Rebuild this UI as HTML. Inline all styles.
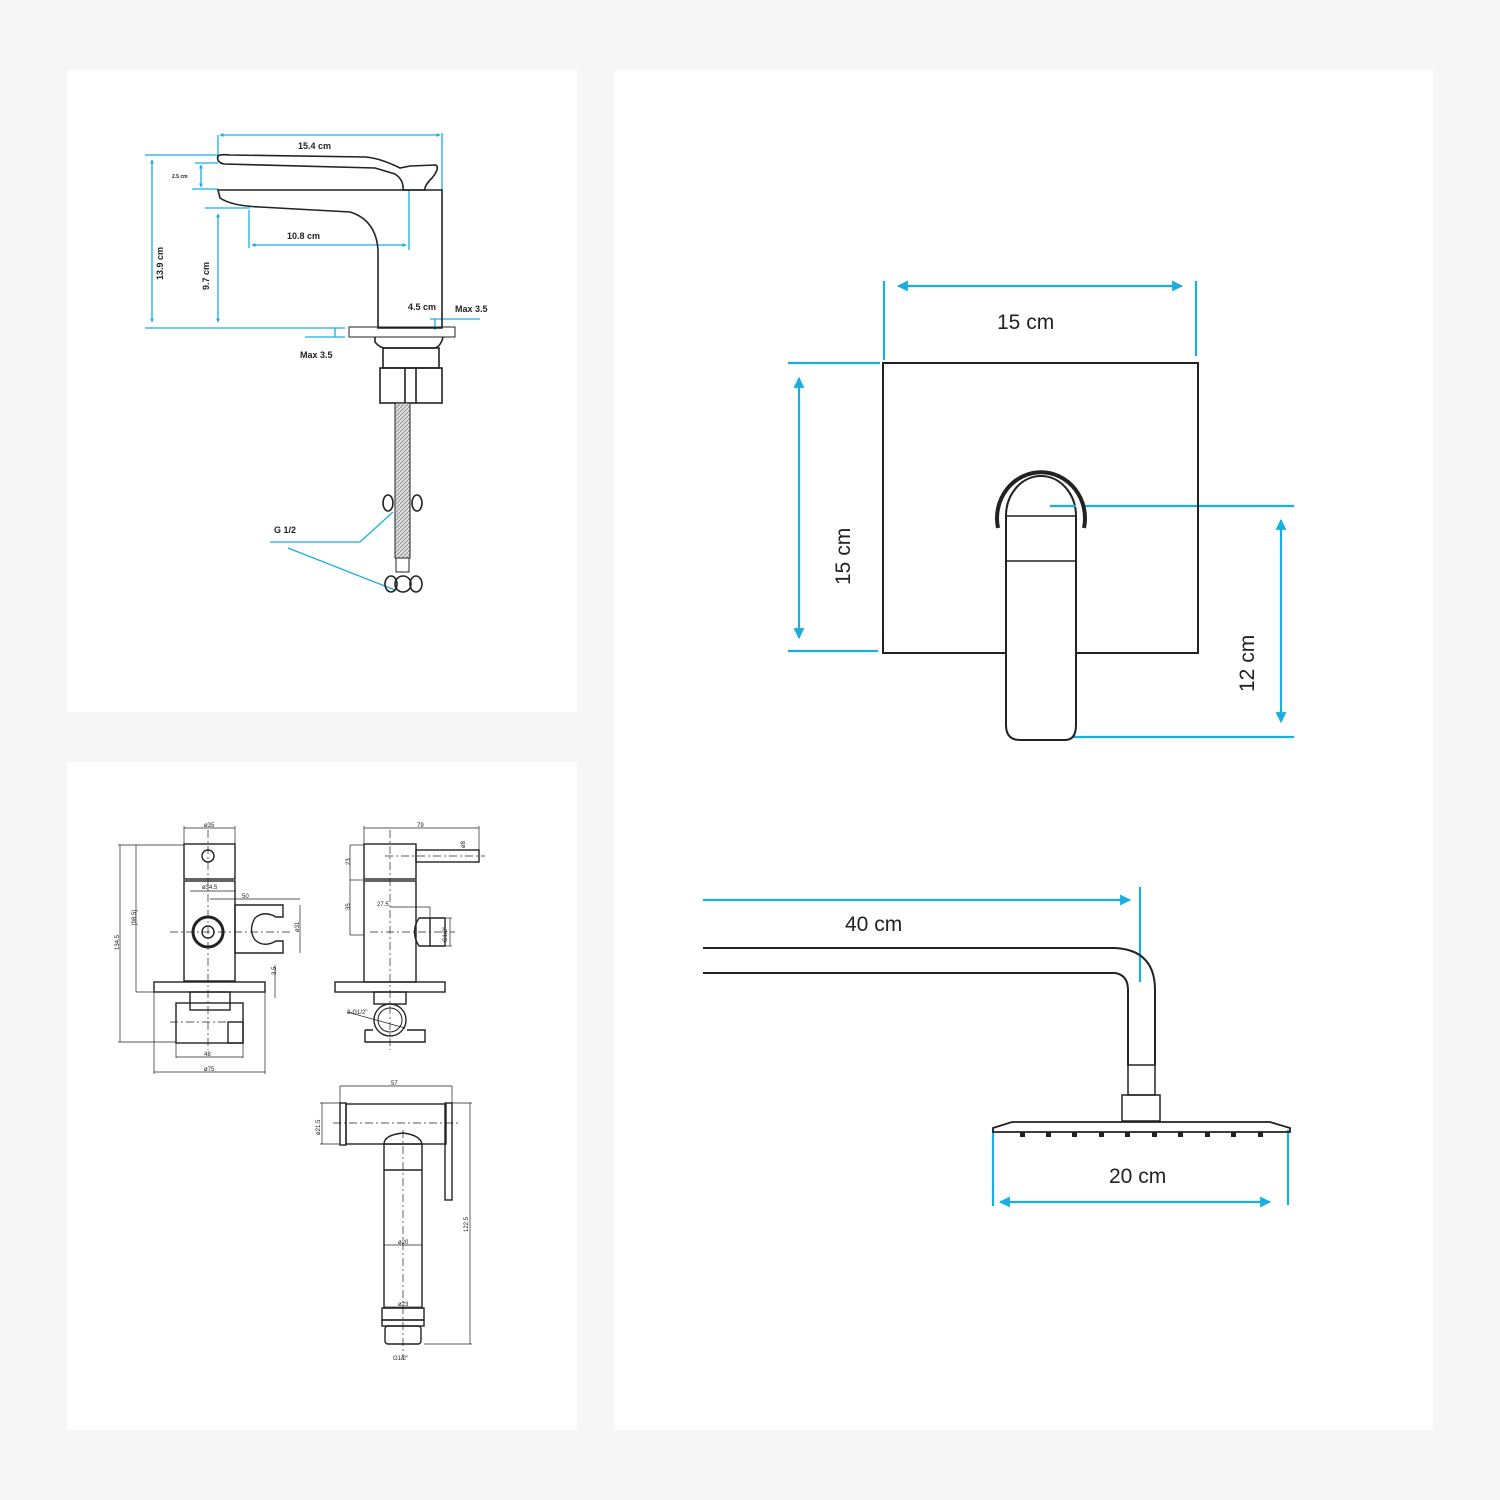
<!DOCTYPE html>
<html><head><meta charset="utf-8"><style>
html,body{margin:0;padding:0;background:#f6f6f6;}
svg{display:block;}
text{font-family:"Liberation Sans",Arial,sans-serif;}
</style></head><body>
<svg width="1500" height="1500" viewBox="0 0 1500 1500" xmlns="http://www.w3.org/2000/svg">
<defs>
<marker id="a" viewBox="0 0 10 10" refX="9" refY="5" markerWidth="5" markerHeight="5" orient="auto-start-reverse"><path d="M0,0 L10,5 L0,10 z" fill="#19aee0"/></marker>
<marker id="s" viewBox="0 0 10 10" refX="9" refY="5" markerWidth="3" markerHeight="3" orient="auto-start-reverse"><path d="M0,0 L10,5 L0,10 z" fill="#19aee0"/></marker>
<pattern id="br" width="4" height="4" patternUnits="userSpaceOnUse"><rect width="4" height="4" fill="#ddd"/><path d="M0,4 L4,0" stroke="#888" stroke-width="0.8"/></pattern>
</defs>
<rect width="1500" height="1500" fill="#f6f6f6"/>
<rect x="67" y="70" width="510" height="642" fill="#fff"/>
<rect x="67" y="762" width="510" height="668" fill="#fff"/>
<rect x="614" y="70" width="819" height="1360" fill="#fff"/>

<!-- ===== Faucet (top-left) ===== -->
<g fill="none" stroke="#19aee0" stroke-width="1.3">
<line x1="218" y1="135" x2="218" y2="160"/><line x1="442" y1="133" x2="442" y2="190"/>
<line x1="220" y1="135" x2="440" y2="135" marker-start="url(#s)" marker-end="url(#s)"/>
<line x1="145" y1="155" x2="218" y2="155"/>
<line x1="195" y1="163" x2="218" y2="163"/><line x1="192" y1="189" x2="218" y2="189"/>
<line x1="201" y1="165" x2="201" y2="187" marker-start="url(#s)" marker-end="url(#s)"/>
<line x1="152" y1="160" x2="152" y2="322" marker-start="url(#s)" marker-end="url(#s)"/>
<line x1="205" y1="208" x2="250" y2="208"/>
<line x1="218" y1="214" x2="218" y2="322" marker-start="url(#s)" marker-end="url(#s)"/>
<line x1="249" y1="210" x2="249" y2="248"/><line x1="409" y1="190" x2="409" y2="250"/>
<line x1="252" y1="245" x2="406" y2="245" marker-start="url(#s)" marker-end="url(#s)"/>
<line x1="145" y1="328" x2="345" y2="328"/>
<line x1="305" y1="337" x2="345" y2="337"/>
<line x1="335" y1="328" x2="335" y2="337"/>
<line x1="430" y1="319" x2="480" y2="319"/><line x1="435" y1="319" x2="435" y2="330"/>
<line x1="270" y1="542" x2="360" y2="542"/><line x1="360" y1="542" x2="393" y2="512"/>
<line x1="288" y1="548" x2="395" y2="590"/>
</g>
<g fill="none" stroke="#222" stroke-width="1.6">
<path d="M218,156 Q220,154 230,155 L365,157 Q380,158 400,168 L410,166 L436,165 Q440,168 432,178 Q424,186 425,190 L403,190 Q404,180 395,174 L375,168 L224,164 Q216,162 218,156 Z"/>
<path d="M218,190 L442,190 L442,328 L378,328 L378,250 Q376,220 350,212 L260,207 Q232,206 220,198 Z"/>
<rect x="349" y="327" width="106" height="10" stroke-width="1"/>
<path d="M375,337 L375,342 Q380,348 385,348 L435,348 Q441,346 443,337"/>
<rect x="383" y="348" width="56" height="20"/>
<rect x="380" y="368" width="62" height="35"/>
<line x1="405" y1="368" x2="405" y2="403"/><line x1="416" y1="368" x2="416" y2="403"/>
<rect x="395" y="403" width="15" height="155" stroke-width="1" fill="url(#br)"/>
<ellipse cx="388" cy="503" rx="5" ry="8"/><ellipse cx="417" cy="503" rx="5" ry="8"/>
<rect x="396" y="558" width="13" height="14" stroke-width="1"/>
<ellipse cx="391" cy="584" rx="6" ry="8"/><ellipse cx="403" cy="584" rx="8" ry="8"/><ellipse cx="416" cy="584" rx="6" ry="8"/>
</g>
<g font-size="9" fill="#222" font-weight="bold">
<text x="298" y="149">15.4 cm</text>
<text x="172" y="178" font-size="5">2.5 cm</text>
<text x="287" y="239">10.8 cm</text>
<text x="408" y="310">4.5 cm</text>
<text x="455" y="312">Max 3.5</text>
<text x="300" y="358">Max 3.5</text>
<text x="274" y="533">G 1/2</text>
<text transform="translate(163,280) rotate(-90)">13.9 cm</text>
<text transform="translate(209,290) rotate(-90)">9.7 cm</text>
</g>

<!-- ===== Valve drawings (bottom-left) ===== -->
<g fill="none" stroke="#222" stroke-width="1.4">
<rect x="184" y="844" width="51" height="35"/>
<circle cx="208" cy="856" r="6"/>
<rect x="184" y="881" width="51" height="100"/>
<path d="M235,905 L283,905 L283,917 L276,917 Q264,910 255,918 Q248,930 255,940 Q264,948 276,941 L283,941 L283,953 L235,953 Z"/>
<circle cx="208" cy="932" r="15" stroke-width="3"/><circle cx="208" cy="932" r="6"/>
<rect x="154" y="982" width="111" height="10"/>
<rect x="190" y="992" width="40" height="18"/>
<rect x="176" y="1003" width="67" height="40"/>
<rect x="228" y="1022" width="15" height="21"/>
<g stroke-width="0.7"><line x1="184" y1="826" x2="184" y2="844"/><line x1="235" y1="826" x2="235" y2="844"/><line x1="184" y1="828" x2="235" y2="828"/>
<line x1="118" y1="845" x2="184" y2="845"/><line x1="118" y1="1042" x2="176" y2="1042"/><line x1="120" y1="845" x2="120" y2="1042"/>
<line x1="136" y1="845" x2="136" y2="992"/><line x1="136" y1="992" x2="154" y2="992"/>
<line x1="154" y1="992" x2="154" y2="1074"/><line x1="265" y1="992" x2="265" y2="1074"/><line x1="154" y1="1072" x2="265" y2="1072"/>
<line x1="176" y1="1043" x2="176" y2="1058"/><line x1="243" y1="1043" x2="243" y2="1058"/><line x1="176" y1="1057" x2="243" y2="1057"/>
<line x1="210" y1="899" x2="283" y2="899"/><line x1="283" y1="899" x2="300" y2="899"/><line x1="300" y1="905" x2="300" y2="953"/>
<line x1="190" y1="891" x2="235" y2="891"/>
<line x1="275" y1="965" x2="275" y2="998"/>
<line stroke-dasharray="8,3,2,3" x1="208" y1="830" x2="208" y2="1050"/>
<line stroke-dasharray="8,3,2,3" x1="170" y1="932" x2="290" y2="932"/>
<line stroke-dasharray="8,3,2,3" x1="170" y1="1022" x2="245" y2="1022"/>
</g>
<rect x="364" y="844" width="52" height="35"/>
<rect x="416" y="850" width="63" height="12"/>
<rect x="364" y="881" width="52" height="101"/>
<path d="M419,918 L445,918 L445,946 L419,946 Q410,932 419,918 Z"/><line x1="430" y1="918" x2="430" y2="946"/>
<rect x="335" y="982" width="110" height="10"/>
<rect x="374" y="992" width="32" height="12"/>
<circle cx="390" cy="1020" r="16"/><circle cx="390" cy="1020" r="12" stroke-width="1"/>
<path d="M365,1030 L365,1042 L425,1042 L425,1030 L407,1030 M373,1030 L365,1030"/>
<g stroke-width="0.7"><line x1="364" y1="826" x2="364" y2="844"/><line x1="479" y1="826" x2="479" y2="855"/><line x1="364" y1="828" x2="479" y2="828"/>
<line x1="350" y1="845" x2="364" y2="845"/><line x1="350" y1="880" x2="364" y2="880"/><line x1="350" y1="845" x2="350" y2="880"/><line x1="350" y1="935" x2="364" y2="935"/><line x1="350" y1="880" x2="350" y2="935"/>
<line x1="390" y1="907" x2="430" y2="907"/><line x1="430" y1="907" x2="430" y2="918"/>
<line x1="445" y1="918" x2="452" y2="918"/><line x1="445" y1="946" x2="452" y2="946"/><line x1="450" y1="918" x2="450" y2="946"/>
<line x1="347" y1="1012" x2="405" y2="1028"/>
<line stroke-dasharray="8,3,2,3" x1="390" y1="830" x2="390" y2="1050"/>
<line stroke-dasharray="8,3,2,3" x1="385" y1="856" x2="485" y2="856"/>
<line stroke-dasharray="8,3,2,3" x1="370" y1="932" x2="455" y2="932"/>
</g>
<rect x="340" y="1103" width="6" height="42"/>
<rect x="346" y="1104" width="100" height="40"/>
<rect x="445" y="1103" width="7" height="97"/>
<path d="M384,1144 Q384,1135 403,1133 Q420,1135 422,1144"/>
<rect x="384" y="1144" width="38" height="164"/>
<line x1="384" y1="1170" x2="422" y2="1170"/>
<rect x="382" y="1308" width="42" height="12"/>
<rect x="382" y="1320" width="42" height="6"/>
<rect x="385" y="1326" width="36" height="18" rx="3"/>
<g stroke-width="0.7"><line x1="340" y1="1086" x2="340" y2="1103"/><line x1="452" y1="1086" x2="452" y2="1103"/><line x1="340" y1="1086" x2="452" y2="1086"/>
<line x1="320" y1="1103" x2="340" y2="1103"/><line x1="320" y1="1144" x2="340" y2="1144"/><line x1="322" y1="1103" x2="322" y2="1144"/>
<line x1="452" y1="1103" x2="472" y2="1103"/><line x1="424" y1="1344" x2="472" y2="1344"/><line x1="470" y1="1103" x2="470" y2="1344"/>
<line x1="384" y1="1245" x2="422" y2="1245"/><line x1="384" y1="1307" x2="422" y2="1307"/>
<line stroke-dasharray="8,3,2,3" x1="333" y1="1123" x2="460" y2="1123"/>
<line stroke-dasharray="8,3,2,3" x1="403" y1="1130" x2="403" y2="1360"/>
</g>
</g>
<g font-size="6" fill="#222">
<text x="204" y="827">ø35</text><text x="202" y="889">ø34.5</text><text x="242" y="898">50</text>
<text x="204" y="1056">48</text><text x="204" y="1071">ø75</text><text x="417" y="827">79</text>
<text x="377" y="906">27.5</text><text x="347" y="1014">3-G1/2"</text>
<text x="391" y="1085">57</text><text x="398" y="1244">ø20</text><text x="398" y="1306">ø23</text><text x="393" y="1360">G1/2"</text>
<text transform="translate(119,950) rotate(-90)">134.5</text>
<text transform="translate(136,925) rotate(-90)">[98.5]</text>
<text transform="translate(299,932) rotate(-90)">ø31</text>
<text transform="translate(276,975) rotate(-90)">3.5</text>
<text transform="translate(350,865) rotate(-90)">23</text>
<text transform="translate(350,910) rotate(-90)">35</text>
<text transform="translate(465,848) rotate(-90)">ø8</text>
<text transform="translate(447,942) rotate(-90)">G1/2"</text>
<text transform="translate(320,1135) rotate(-90)">ø21.5</text>
<text transform="translate(468,1232) rotate(-90)">122.5</text>
</g>

<!-- ===== Right panel: mixer plate ===== -->
<g fill="none" stroke="#19aee0" stroke-width="2.2">
<line x1="884" y1="281" x2="884" y2="360"/><line x1="1196" y1="281" x2="1196" y2="356"/>
<line x1="898" y1="286" x2="1182" y2="286" marker-start="url(#a)" marker-end="url(#a)"/>
<line x1="788" y1="363" x2="880" y2="363"/><line x1="788" y1="651" x2="878" y2="651"/>
<line x1="799" y1="378" x2="799" y2="638" marker-start="url(#a)" marker-end="url(#a)"/>
<line x1="1076" y1="506" x2="1294" y2="506"/><line x1="1068" y1="737" x2="1294" y2="737"/>
<line x1="1281" y1="520" x2="1281" y2="722" marker-start="url(#a)" marker-end="url(#a)"/>
<line x1="703" y1="900" x2="1130" y2="900" marker-end="url(#a)"/>
<line x1="1140" y1="887" x2="1140" y2="982"/>
<line x1="993" y1="1130" x2="993" y2="1206"/><line x1="1288" y1="1130" x2="1288" y2="1205"/>
<line x1="1000" y1="1202" x2="1270" y2="1202" marker-start="url(#a)" marker-end="url(#a)"/>
</g>
<g fill="none" stroke="#222" stroke-width="2">
<rect x="883" y="363" width="315" height="290"/>
<path d="M998,528 A44,46 0 1 1 1084,528" stroke-width="4" fill="#fff"/>
<path d="M1006,516 L1006,725 Q1006,740 1020,740 L1065,740 Q1076,740 1076,725 L1076,516 A35,40 0 0 0 1006,516 Z" fill="#fff"/>
<line x1="1006" y1="516" x2="1076" y2="516" stroke-width="1.5"/>
<line x1="1006" y1="561" x2="1076" y2="561" stroke-width="1.5"/>
<line x1="1050" y1="506" x2="1076" y2="506" stroke="#19aee0" stroke-width="2.2"/>
<path d="M703,948 L1115,948 Q1155,950 1155,990 L1155,1065"/>
<path d="M703,973 L1115,973 Q1128,975 1128,990 L1128,1065"/>
<rect x="1128" y="1065" width="27" height="30" stroke-width="1.5"/>
<rect x="1122" y="1095" width="38" height="26" stroke-width="1.5"/>
<path d="M993,1128 L1012,1122 L1270,1122 L1290,1128 L1290,1132 L993,1132 Z" stroke-width="1.8"/>
</g>
<g fill="#222">
<rect x="1020" y="1132" width="5" height="5"/><rect x="1046" y="1132" width="5" height="5"/><rect x="1072" y="1132" width="5" height="5"/>
<rect x="1099" y="1132" width="5" height="5"/><rect x="1125" y="1132" width="5" height="5"/><rect x="1152" y="1132" width="5" height="5"/>
<rect x="1178" y="1132" width="5" height="5"/><rect x="1205" y="1132" width="5" height="5"/><rect x="1231" y="1132" width="5" height="5"/><rect x="1258" y="1132" width="5" height="5"/>
</g>
<g font-size="21" fill="#222">
<text x="997" y="329">15 cm</text>
<text transform="translate(850,585) rotate(-90)">15 cm</text>
<text transform="translate(1254,692) rotate(-90)">12 cm</text>
<text x="845" y="931">40 cm</text>
<text x="1109" y="1183">20 cm</text>
</g>
</svg>
</body></html>
